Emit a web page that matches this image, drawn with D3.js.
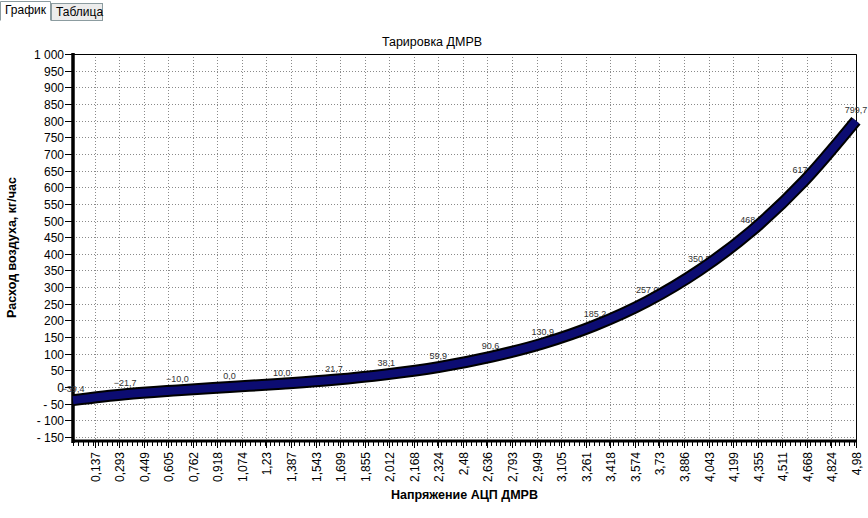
<!DOCTYPE html>
<html>
<head>
<meta charset="utf-8">
<script src="https://cdn.jsdelivr.net/npm/d3@7"></script>
<style>
  body { margin: 0; background: #fff; }
  svg { display: block; font-family: "Liberation Sans", Arial, sans-serif; }
</style>
</head>
<body>
<script>
// calibration points with labels (every 17th point of the 256-point table)
var adcVolts = [0, 0.332, 0.664, 0.996, 1.328, 1.660, 1.992, 2.324, 2.656, 2.988, 3.320, 3.652, 3.984, 4.316, 4.648, 4.980];
var airFlow = [-39.4, -21.7, -10.0, 0.0, 10.0, 21.7, 38.1, 59.9, 90.6, 130.9, 185.2, 257.0, 350.5, 468.5, 617.4, 799.7];

var xTickLabels = ["0,137", "0,293", "0,449", "0,605", "0,762", "0,918", "1,074", "1,23", "1,387", "1,543",
  "1,699", "1,855", "2,012", "2,168", "2,324", "2,48", "2,636", "2,793", "2,949", "3,105", "3,261",
  "3,418", "3,574", "3,73", "3,886", "4,043", "4,199", "4,355", "4,511", "4,668", "4,824", "4,98"];
var yTicks = [-150, -100, -50, 0, 50, 100, 150, 200, 250, 300, 350, 400, 450, 500, 550, 600, 650, 700, 750, 800, 850, 900, 950, 1000];

var chartTitle = "Тарировка ДМРВ";
var xTitle = "Напряжение АЦП ДМРВ";
var yTitle = "Расход воздуха, кг/час";

var W = 868, H = 518;
var pLeft = 73, pRight = 856, pTop = 54, pBottom = 441;

var svg = d3.select("body").append("svg").attr("width", W).attr("height", H);

// tabs
svg.append("rect").attr("x", 51.5).attr("y", 3.5).attr("width", 51).attr("height", 17)
  .attr("fill", "#ececec").attr("stroke", "#8c9ca0");
svg.append("path").attr("d", "M0.5,20.5 V1.5 H50.5 V20.5")
  .attr("fill", "#fff").attr("stroke", "#8c9ca0");
svg.append("text").attr("x", 5).attr("y", 14).attr("font-size", 12).text("График");
svg.append("text").attr("x", 56).attr("y", 16).attr("font-size", 12).text("Таблица");

var x = d3.scaleLinear().domain([0, 4.98046875]).range([pLeft, pRight]);
var y = d3.scaleLinear().domain([-162, 1000]).range([pBottom, pTop]);

var xTicks = xTickLabels.map(function (s) { return +s.replace(",", "."); });

// grid
var grid = svg.append("g").attr("stroke", "#8a8a8a").attr("stroke-dasharray", "1,2").attr("stroke-width", 1);
yTicks.forEach(function (v) {
  grid.append("line").attr("x1", pLeft).attr("x2", pRight)
    .attr("y1", Math.round(y(v)) + 0.5).attr("y2", Math.round(y(v)) + 0.5);
});
xTicks.forEach(function (v) {
  grid.append("line").attr("y1", pTop).attr("y2", pBottom)
    .attr("x1", Math.round(x(v)) + 0.5).attr("x2", Math.round(x(v)) + 0.5);
});

// plot frame (thin top / right)
svg.append("path").attr("d", "M" + pLeft + "," + (pTop + 0.5) + " H" + (pRight + 0.5) + " V" + pBottom)
  .attr("fill", "none").attr("stroke", "#000");

// title
svg.append("text").attr("x", 432).attr("y", 46).attr("text-anchor", "middle")
  .attr("font-size", 12.5).text(chartTitle);

// y axis
var yAxis = svg.append("g");
yTicks.forEach(function (v) {
  var py = Math.round(y(v)) + 0.5;
  yAxis.append("line").attr("x1", pLeft - 8).attr("x2", pLeft).attr("y1", py).attr("y2", py).attr("stroke", "#000");
  var lbl = v >= 1000 ? d3.format(",")(v).replace(",", " ") : (v < 0 ? "- " + Math.abs(v) : String(v));
  yAxis.append("text").attr("x", pLeft - 9).attr("y", py + 4.5).attr("text-anchor", "end")
    .attr("font-size", 12).text(lbl);
});
svg.append("line").attr("x1", pLeft).attr("x2", pLeft).attr("y1", pTop - 1).attr("y2", pBottom + 2)
  .attr("stroke", "#000").attr("stroke-width", 3.5);

// x axis
var xAxis = svg.append("g");
d3.range(0, 4.99, 0.03125).forEach(function (v) {
  var px = Math.round(x(v)) + 0.5;
  xAxis.append("line").attr("x1", px).attr("x2", px).attr("y1", pBottom).attr("y2", pBottom + 5).attr("stroke", "#000");
});
xTicks.forEach(function (v, i) {
  var px = Math.round(x(v)) + 0.5;
  xAxis.append("line").attr("x1", px).attr("x2", px).attr("y1", pBottom).attr("y2", pBottom + 7).attr("stroke", "#000");
  xAxis.append("text").attr("transform", "translate(" + (px + 4.5) + "," + (pBottom + 11) + ") rotate(-90)")
    .attr("text-anchor", "end").attr("font-size", 12).text(xTickLabels[i]);
});
svg.append("line").attr("x1", pLeft - 1).attr("x2", pRight + 1).attr("y1", pBottom).attr("y2", pBottom)
  .attr("stroke", "#000").attr("stroke-width", 3);

// axis titles
svg.append("text").attr("x", (pLeft + pRight) / 2).attr("y", 499).attr("text-anchor", "middle")
  .attr("font-size", 12.5).attr("font-weight", "bold").text(xTitle);
svg.append("text").attr("transform", "translate(16," + ((pTop + pBottom) / 2) + ") rotate(-90)")
  .attr("text-anchor", "middle").attr("font-size", 12.5).attr("font-weight", "bold").text(yTitle);

// point labels (drawn under the band)
adcVolts.forEach(function (v, i) {
  svg.append("text").attr("x", x(v)).attr("y", y(airFlow[i]) - 8).attr("text-anchor", "middle")
    .attr("font-size", 9).attr("fill", "#333").text(d3.format(".1f")(airFlow[i]).replace(".", ","));
});

// calibration band
var pts = adcVolts.map(function (v, i) { return [v, airFlow[i]]; });
var line = d3.line().x(function (d) { return x(d[0]); }).y(function (d) { return y(d[1]); })
  .curve(d3.curveMonotoneX);
svg.append("path").attr("d", line(pts)).attr("fill", "none").attr("stroke", "#000")
  .attr("stroke-width", 12);
svg.append("path").attr("d", line(pts)).attr("fill", "none").attr("stroke", "#0c0c72")
  .attr("stroke-width", 8);
</script>
</body>
</html>
